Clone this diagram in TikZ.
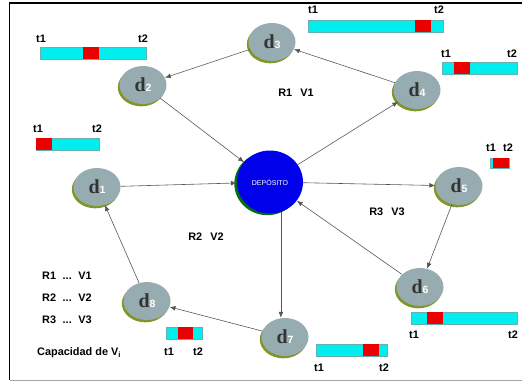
\documentclass[tikz,border=0pt]{standalone}
\usepackage{fontspec}
\setmainfont{Liberation Serif}
\setsansfont{Liberation Sans}
\usepackage{tikz}
\usetikzlibrary{arrows.meta, positioning, shapes.geometric, shadows}

\definecolor{nodegray}{RGB}{150,172,176}
\definecolor{shadegreen}{RGB}{128,150,40}
\definecolor{depblue}{RGB}{0,0,235}
\definecolor{depgreen}{RGB}{0,110,20}
\definecolor{barcyan}{RGB}{0,238,238}
\definecolor{barred}{RGB}{235,0,0}
\definecolor{linkgray}{RGB}{85,85,85}

\begin{document}
\begin{tikzpicture}[
  x=0.03cm, y=-0.03cm,
  >={Latex[length=5pt,width=4pt]},
  every node/.style={font=\sffamily\bfseries\fontsize{9.3}{10}\selectfont},
  dnode/.style={ellipse, fill=nodegray, minimum width=1.41cm,
    minimum height=1.14cm, inner sep=0pt, text=black!80,
    font=\rmfamily\bfseries\fontsize{17}{17}\selectfont,
    drop shadow={shadow xshift=-0.05cm, shadow yshift=-0.07cm,
      fill=shadegreen, opacity=1}},
  depot/.style={ellipse, fill=depblue, minimum width=1.98cm,
    minimum height=1.89cm, inner sep=0pt, text=white,
    font=\sffamily\fontsize{6}{6}\selectfont,
    drop shadow={shadow xshift=-0.08cm, shadow yshift=-0.05cm,
      fill=depgreen, opacity=1}},
  link/.style={->, draw=linkgray, line width=0.5pt},
  slot/.style={fill=barcyan, draw=teal!60, line width=0.4pt},
  busy/.style={fill=barred},
  tlabel/.style={inner sep=0pt}
]
  \useasboundingbox (0,0) rectangle (522,381);

  % Frame
  \draw[black, line width=1.6pt] (9.5,380) -- (9.5,3) -- (522,3);
  \draw[gray!70, line width=0.6pt] (9.5,380) -- (522,380);

  % Depot and customers
  \node[depot] (dep) at (270,182) {DEPÓSITO};
  \node[dnode] (d1) at (97,187) {d{\sffamily\bfseries\fontsize{9}{9}\selectfont\color{white}1}};
  \node[dnode] (d2) at (143,85) {d{\sffamily\bfseries\fontsize{9}{9}\selectfont\color{white}2}};
  \node[dnode] (d3) at (272,42) {d{\sffamily\bfseries\fontsize{9}{9}\selectfont\color{white}3}};
  \node[dnode] (d4) at (417,90) {d{\sffamily\bfseries\fontsize{9}{9}\selectfont\color{white}4}};
  \node[dnode] (d5) at (459,186) {d{\sffamily\bfseries\fontsize{9}{9}\selectfont\color{white}5}};
  \node[dnode] (d6) at (420,287) {d{\sffamily\bfseries\fontsize{9}{9}\selectfont\color{white}6}};
  \node[dnode] (d7) at (285,337) {d{\sffamily\bfseries\fontsize{9}{9}\selectfont\color{white}7}};
  \node[dnode] (d8) at (147,301) {d{\sffamily\bfseries\fontsize{9}{9}\selectfont\color{white}8}};

  % Routes
  \draw[link] (d2) -- (dep);
  \draw[link] (d1) -- (dep);
  \draw[link] (dep) -- (d4);
  \draw[link] (d4) -- (d3);
  \draw[link] (d3) -- (d2);
  \draw[link] (dep) -- (d5);
  \draw[link] (d5) -- (d6);
  \draw[link] (d6) -- (dep);
  \draw[link] (dep.-70) -- (dep.-70 |- d7.north);
  \draw[link] (d7) -- (d8);
  \draw[link] (d8) -- (d1);

  % Time windows
  \filldraw[slot] (40,47) rectangle (146,59);
  \fill[busy] (83,47) rectangle (99,59);
  \node[tlabel] (t1a) at (41,39) {t1};
  \node[tlabel] (t2a) at (143,39) {t2};

  \filldraw[slot] (36,138) rectangle (99,150);
  \fill[busy] (36.4,138.4) rectangle (52,149.6);
  \node[tlabel] (t1b) at (38,129) {t1};
  \node[tlabel] (t2b) at (97,129) {t2};

  \filldraw[slot] (308,20) rectangle (443,32);
  \fill[busy] (415,20.4) rectangle (431,31.6);
  \node[tlabel] (t1c) at (313,10) {t1};
  \node[tlabel] (t2c) at (439,10) {t2};

  \filldraw[slot] (442,62) rectangle (517,74);
  \fill[busy] (454,62.4) rectangle (470,73.6);
  \node[tlabel] (t1d) at (446,54) {t1};
  \node[tlabel] (t2d) at (512,54) {t2};

  \filldraw[slot] (490,158) rectangle (509,168);
  \fill[busy] (493,158.4) rectangle (508.6,167.6);
  \node[tlabel] (t1e) at (491,148) {t1};
  \node[tlabel] (t2e) at (508,148) {t2};

  \filldraw[slot] (411,312) rectangle (517,324);
  \fill[busy] (427,312.4) rectangle (443,323.6);
  \node[tlabel] (t1f) at (414,335) {t1};
  \node[tlabel] (t2f) at (513,335) {t2};

  \filldraw[slot] (316,344) rectangle (387,356);
  \fill[busy] (363,344.4) rectangle (379,355.6);
  \node[tlabel] (t1g) at (319,368) {t1};
  \node[tlabel] (t2g) at (384,368) {t2};

  \filldraw[slot] (166,327) rectangle (202,339);
  \fill[busy] (178,327.4) rectangle (193,338.6);
  \node[tlabel] (t1h) at (169,352) {t1};
  \node[tlabel] (t2h) at (198,352) {t2};

  % Routes and vehicles
  \node (r1) at (296,93) {R1\hspace{0.75em}V1};
  \node (r2) at (206,237) {R2\hspace{0.75em}V2};
  \node (r3) at (387,212) {R3\hspace{0.75em}V3};
  \node[anchor=west, inner sep=0pt] (k1) at (42,276) {R1\hspace{0.6em}...\hspace{0.6em}V1};
  \node[anchor=west, inner sep=0pt] (k2) at (42,298) {R2\hspace{0.6em}...\hspace{0.6em}V2};
  \node[anchor=west, inner sep=0pt] (k3) at (42,320) {R3\hspace{0.6em}...\hspace{0.6em}V3};
  \node[anchor=west, inner sep=0pt] (cap) at (37,353) {Capacidad de V\textsubscript{i}};
\end{tikzpicture}
\end{document}
